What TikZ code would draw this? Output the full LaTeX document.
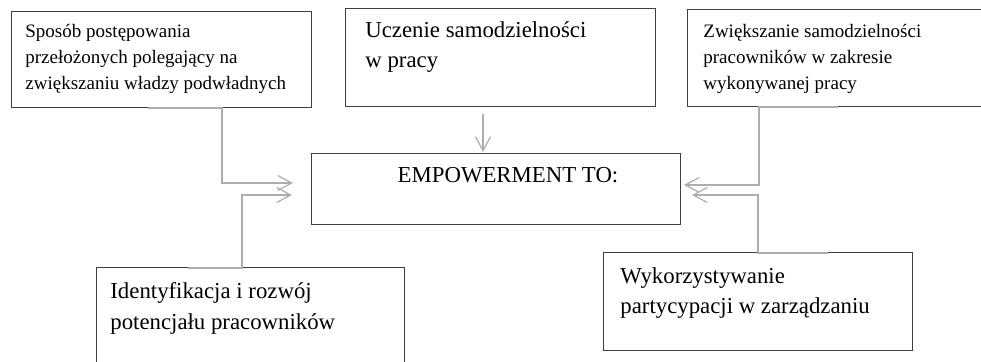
\documentclass[tikz,border=0pt]{standalone}
\usepackage{fontspec}
\setmainfont{Liberation Serif}
\usepackage{tikz}
\usetikzlibrary{arrows.meta}
\usetikzlibrary{positioning}

\begin{document}
\begin{tikzpicture}
		[x=0.5pt,y=-0.5pt,
		box/.style={draw=black!75,line width=0.5pt,rectangle,inner sep=0pt,outer sep=0pt,anchor=north west},
		small/.style={font=\fontsize{9.5}{12.85}\selectfont,align=left,inner sep=0pt,anchor=north west},
		large/.style={font=\fontsize{11.4}{15.2}\selectfont,align=left,inner sep=0pt,anchor=north west},
		link/.style={draw=black!32,line width=0.6pt,-{Straight Barb[length=7pt,width=7.5pt]}}]
		\useasboundingbox (0,0) rectangle (981,362);
		% boxes
		\node[box,minimum width=150pt,minimum height=48pt] (b1) at (11,12) {};
		\node[box,minimum width=155pt,minimum height=49pt] (b2) at (345,9) {};
		\node[box,minimum width=149pt,minimum height=48.5pt] (b3) at (687,10) {};
		\node[box,minimum width=184.5pt,minimum height=35.5pt] (emp) at (311,154) {};
		\node[box,minimum width=154pt,minimum height=48pt] (b4) at (96,268) {};
		\node[box,minimum width=154.5pt,minimum height=49pt] (b5) at (603,253) {};
		% texts
		\node[small] (t1) at ([shift={(14,12)}]b1.north west)
			{Sposób postępowania\\przełożonych polegający na\\zwiększaniu władzy podwładnych};
		\node[large] (t2) at ([shift={(20,12.3)}]b2.north west)
			{Uczenie samodzielności\\w pracy};
		\node[small] (t3) at ([shift={(16,14)}]b3.north west)
			{Zwiększanie samodzielności\\pracowników w zakresie\\wykonywanej pracy};
		\node[large,anchor=base] (t0) at ([shift={(12.5,-6.5)}]emp.center) {EMPOWERMENT TO:};
		\node[large] (t4) at ([shift={(14,14.3)}]b4.north west)
			{Identyfikacja i rozwój\\potencjału pracowników};
		\node[large] (t5) at ([shift={(17,14.3)}]b5.north west)
			{Wykorzystywanie\\partycypacji w zarządzaniu};
		% connectors
		\draw[link] ([xshift=-6.5pt]b1.south) -- ([xshift=30.5pt]b1.south)
			|- ([xshift=-9pt,yshift=3.25pt]emp.west);
		\draw[link] ([xshift=-31pt]b4.north) -- ([xshift=-4pt]b4.north)
			|- ([xshift=-9.5pt,yshift=-2.75pt]emp.west);
		\draw[link] ([xshift=-8.5pt,yshift=-3.5pt]b2.south) -- ([xshift=-6.25pt,yshift=1pt]emp.north);
		\draw[link] ([xshift=1pt]b3.south) -- ([xshift=-38.5pt]b3.south)
			|- ([xshift=2pt,yshift=2.25pt]emp.east);
		\draw[link] ([xshift=35.25pt]b5.north) -- ([xshift=0.25pt]b5.north)
			|- ([xshift=6pt,yshift=-2.75pt]emp.east);
		\end{tikzpicture}
\end{document}
